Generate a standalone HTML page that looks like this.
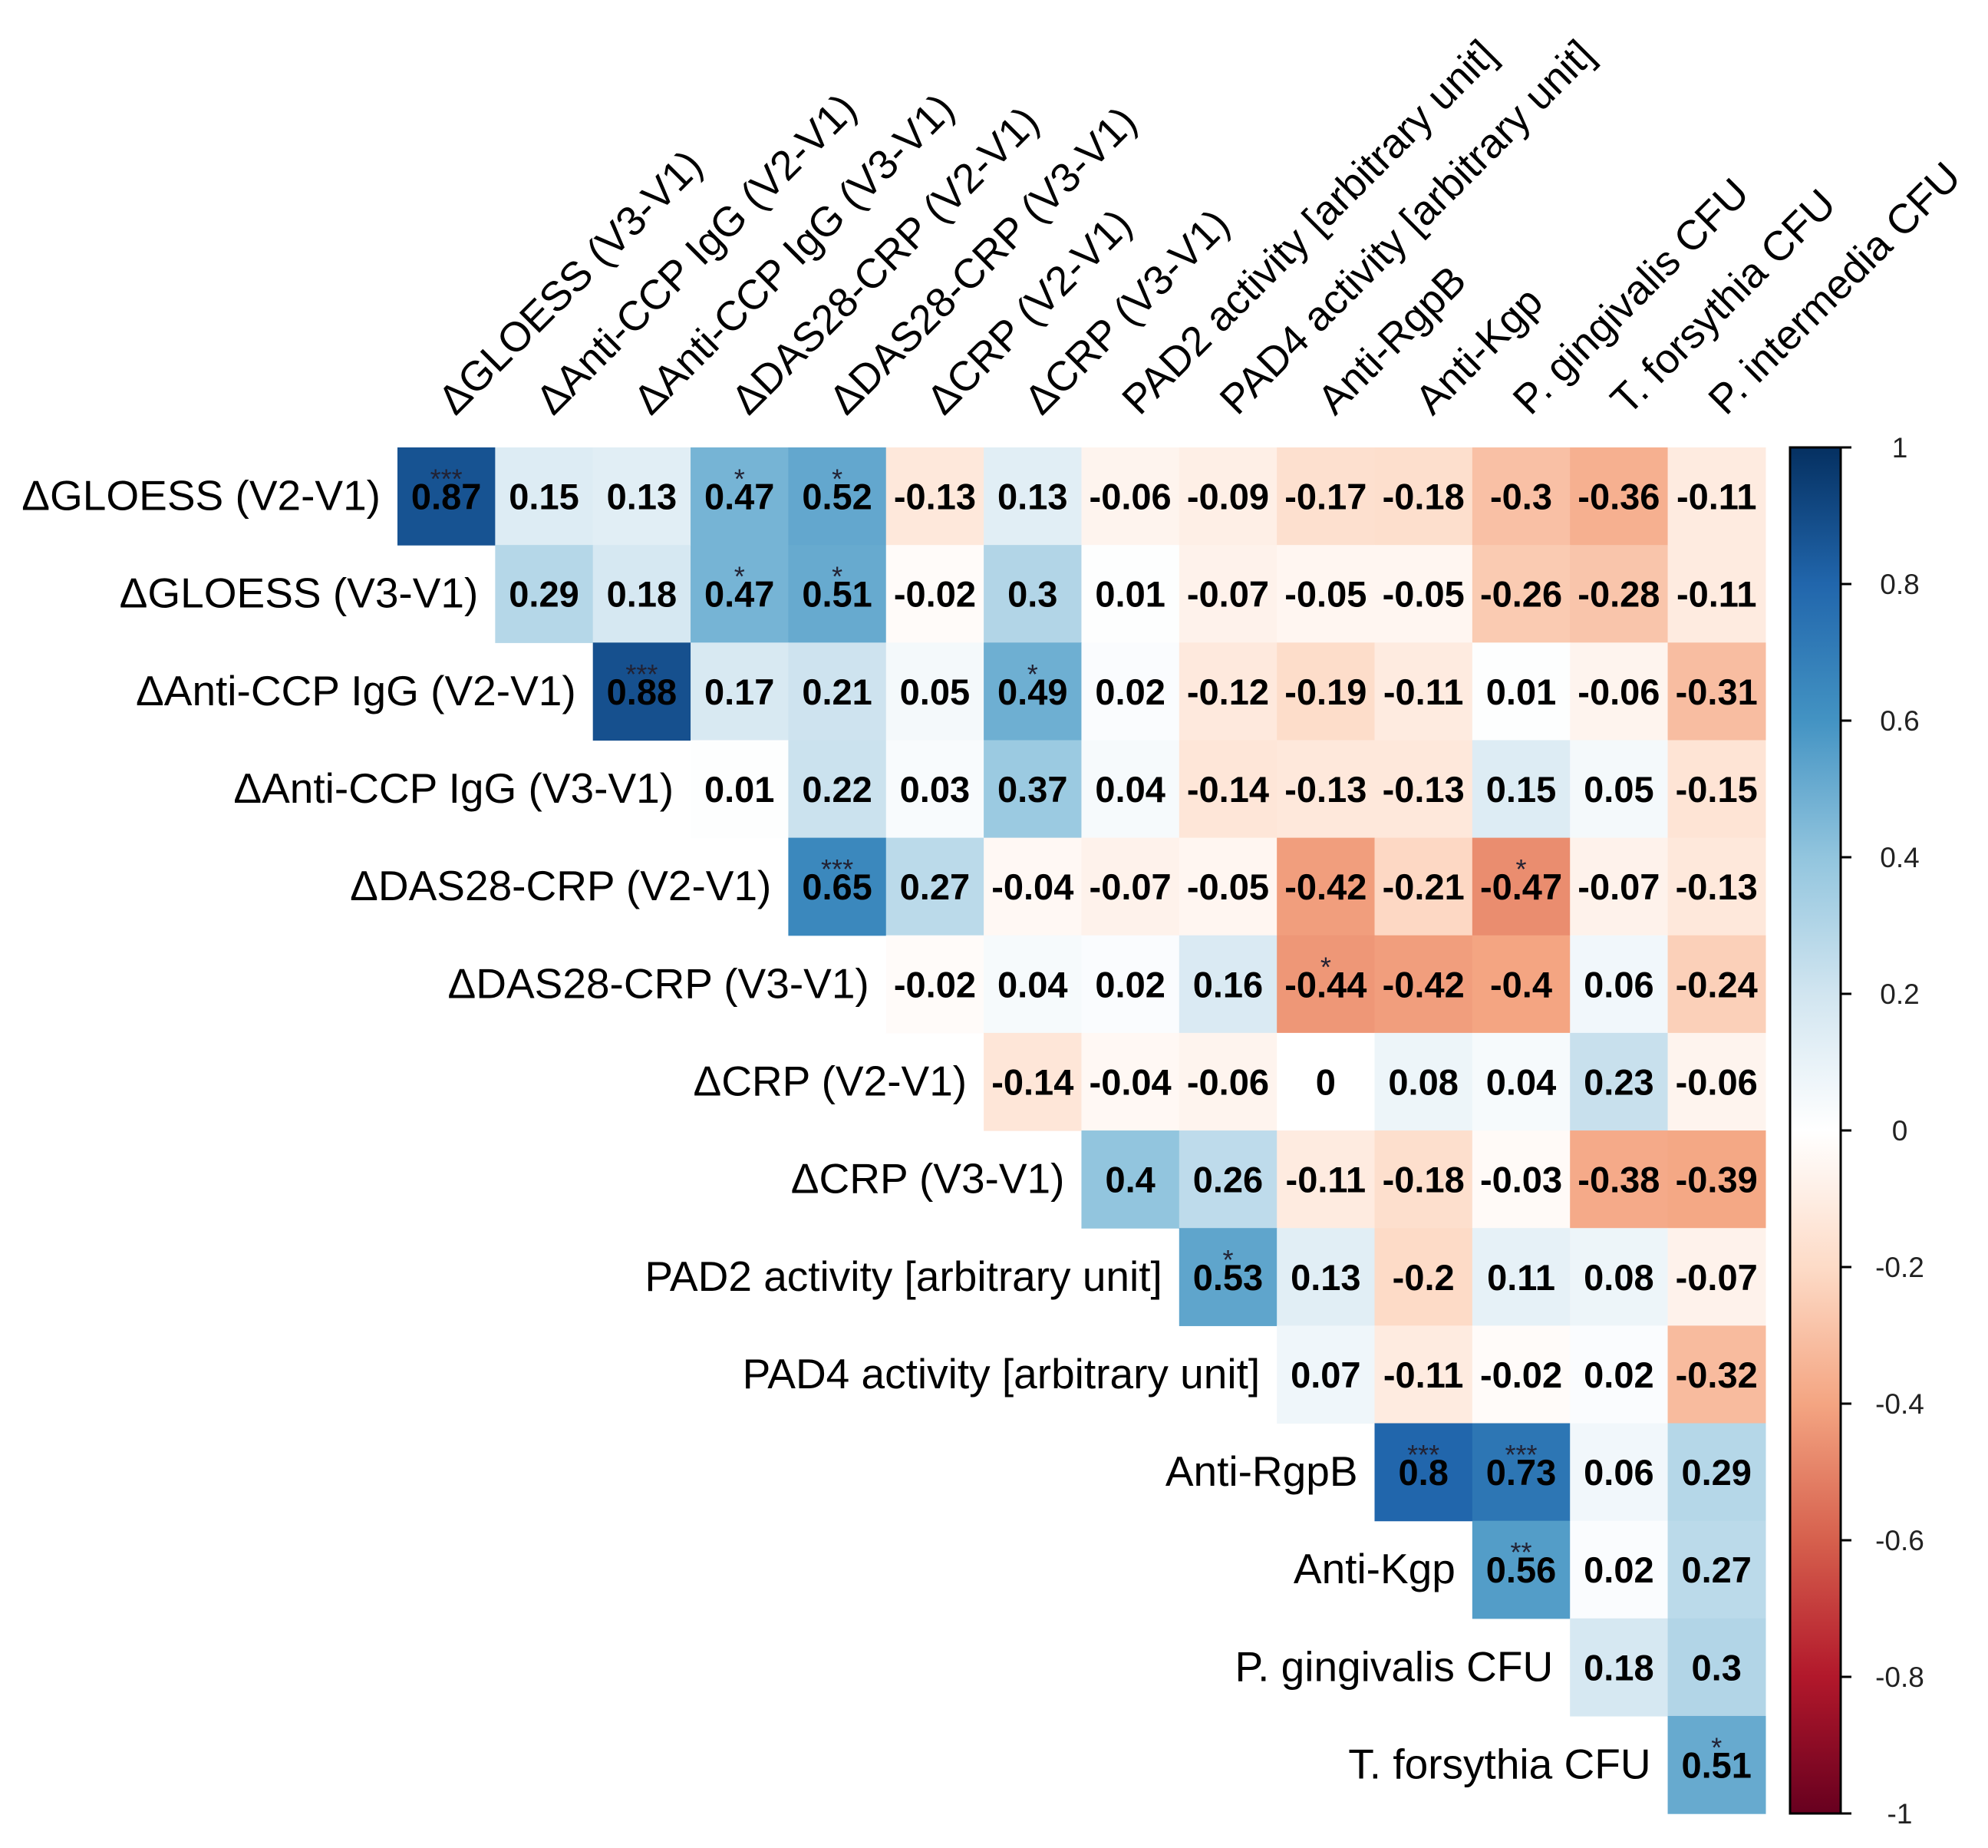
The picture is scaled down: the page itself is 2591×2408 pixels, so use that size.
<!DOCTYPE html>
<html><head><meta charset="utf-8"><style>
html,body{margin:0;padding:0;background:#fff}
svg{display:block}
text{font-family:"Liberation Sans",Arial,sans-serif}
</style></head><body>
<svg id="chart" width="2591" height="2408" viewBox="0 0 2591 2408" xmlns="http://www.w3.org/2000/svg">
<defs>
<linearGradient id="cbgrad" x1="0" y1="0" x2="0" y2="1">
<stop offset="0" stop-color="#053061"/><stop offset="0.1" stop-color="#2166AC"/><stop offset="0.2" stop-color="#4393C3"/><stop offset="0.3" stop-color="#92C5DE"/><stop offset="0.4" stop-color="#D1E5F0"/><stop offset="0.5" stop-color="#FFFFFF"/><stop offset="0.6" stop-color="#FDDBC7"/><stop offset="0.7" stop-color="#F4A582"/><stop offset="0.8" stop-color="#D6604D"/><stop offset="0.9" stop-color="#B2182B"/><stop offset="1" stop-color="#67001F"/>
</linearGradient>
</defs>
<g id="cells"></g>
<g id="rowlabels"></g>
<g id="collabels"></g>
<g id="colorbar">
<rect x="2333" y="583" width="66" height="1780" fill="url(#cbgrad)" stroke="#000" stroke-width="3"/>
</g>
</svg>
<script>
const rowLabels = ["ΔGLOESS (V2-V1)","ΔGLOESS (V3-V1)","ΔAnti-CCP IgG (V2-V1)","ΔAnti-CCP IgG (V3-V1)","ΔDAS28-CRP (V2-V1)","ΔDAS28-CRP (V3-V1)","ΔCRP (V2-V1)","ΔCRP (V3-V1)","PAD2 activity [arbitrary unit]","PAD4 activity [arbitrary unit]","Anti-RgpB","Anti-Kgp","P. gingivalis CFU","T. forsythia CFU"];
const colLabels = ["ΔGLOESS (V3-V1)","ΔAnti-CCP IgG (V2-V1)","ΔAnti-CCP IgG (V3-V1)","ΔDAS28-CRP (V2-V1)","ΔDAS28-CRP (V3-V1)","ΔCRP (V2-V1)","ΔCRP (V3-V1)","PAD2 activity [arbitrary unit]","PAD4 activity [arbitrary unit]","Anti-RgpB","Anti-Kgp","P. gingivalis CFU","T. forsythia CFU","P. intermedia CFU"];
const row0 = [0.87,0.15,0.13,0.47,0.52,-0.13,0.13,-0.06,-0.09,-0.17,-0.18,-0.3,-0.36,-0.11];
const row1 = [0.29,0.18,0.47,0.51,-0.02,0.3,0.01,-0.07,-0.05,-0.05,-0.26,-0.28,-0.11];
const row2 = [0.88,0.17,0.21,0.05,0.49,0.02,-0.12,-0.19,-0.11,0.01,-0.06,-0.31];
const row3 = [0.01,0.22,0.03,0.37,0.04,-0.14,-0.13,-0.13,0.15,0.05,-0.15];
const row4 = [0.65,0.27,-0.04,-0.07,-0.05,-0.42,-0.21,-0.47,-0.07,-0.13];
const row5 = [-0.02,0.04,0.02,0.16,-0.44,-0.42,-0.4,0.06,-0.24];
const row6 = [-0.14,-0.04,-0.06,0,0.08,0.04,0.23,-0.06];
const row7 = [0.4,0.26,-0.11,-0.18,-0.03,-0.38,-0.39];
const row8 = [0.53,0.13,-0.2,0.11,0.08,-0.07];
const row9 = [0.07,-0.11,-0.02,0.02,-0.32];
const row10 = [0.8,0.73,0.06,0.29];
const row11 = [0.56,0.02,0.27];
const row12 = [0.18,0.3];
const row13 = [0.51];
const sig0 = ["***","","","*","*","","","","","","","","",""];
const sig1 = ["","","*","*","","","","","","","","",""];
const sig2 = ["***","","","","*","","","","","","",""];
const sig4 = ["***","","","","","","","*","",""];
const sig5 = ["","","","","*","","","",""];
const sig8 = ["*","","","","",""];
const sig10 = ["***","***","",""];
const sig11 = ["**","",""];
const sig13 = ["*"];
const cbTicks = [1,0.8,0.6,0.4,0.2,0,-0.2,-0.4,-0.6,-0.8,-1];

const rows=[row0,row1,row2,row3,row4,row5,row6,row7,row8,row9,row10,row11,row12,row13];
const sigs=[sig0,sig1,sig2,[],sig4,sig5,[],[],sig8,[],sig10,sig11,[],sig13];
const NS="http://www.w3.org/2000/svg";
const X0=518,Y0=583,CW=127.35,CH=127.15;
const xPos=j=>X0+j*CW, yPos=i=>Y0+i*CH;
const pal=["#67001F","#B2182B","#D6604D","#F4A582","#FDDBC7","#FFFFFF","#D1E5F0","#92C5DE","#4393C3","#2166AC","#053061"];
function hex(h){return [1,3,5].map(k=>parseInt(h.substr(k,2),16));}
function color(v){const t=(v+1)/2*10;const i=Math.min(9,Math.floor(t));const f=t-i;const a=hex(pal[i]),b=hex(pal[i+1]);return "rgb("+a.map((c,k)=>Math.round(c+(b[k]-c)*f)).join(",")+")";}
function mk(tag,attrs,parent){const e=document.createElementNS(NS,tag);for(const k in attrs)e.setAttribute(k,attrs[k]);parent.appendChild(e);return e;}
const gc=document.getElementById('cells'),gr=document.getElementById('rowlabels'),gl=document.getElementById('collabels'),gb=document.getElementById('colorbar');
rows.forEach((r,i)=>{
  r.forEach((v,k)=>{
    const j=i+k;
    const rect=mk('rect',{x:xPos(j),y:yPos(i),width:CW+0.6,height:CH+0.6,fill:color(v)},gc);
    
    
    const t=mk('text',{x:xPos(j)+CW/2,y:yPos(i)+CH/2+17,'text-anchor':'middle','font-size':'47','font-weight':'bold',fill:'#000'},gc);
    t.textContent=String(v);
    
    
    const s=(sigs[i]||[])[k];
    if(s){const st=mk('text',{x:xPos(j)+CW/2,y:yPos(i)+CH/2-10,'text-anchor':'middle','font-size':'36',fill:'#223'},gc);st.textContent=s;
      
      }
  });
  const rl=mk('text',{x:xPos(i)-22,y:yPos(i)+CH/2+18,'text-anchor':'end','font-size':'55',fill:'#000'},gr);
  rl.textContent=rowLabels[i];
  
  
});
colLabels.forEach((c,j)=>{
  const cx=xPos(j)+CW/2+12, cy=Y0-40;
  const t=mk('text',{x:cx,y:cy,'font-size':'54',fill:'#000',transform:'rotate(-45 '+cx+' '+cy+')'},gl);
  t.textContent=c;
  
  
});
const cbY=v=>583+(1-v)/2*1780;
cbTicks.forEach(v=>{
  const y=cbY(v);
  const l=mk('line',{x1:2399,x2:2413,y1:y,y2:y,stroke:'#000','stroke-width':3},gb);
  
  
  const t=mk('text',{x:2476,y:y+13,'text-anchor':'middle','font-size':'37',fill:'#222'},gb);
  t.textContent=String(v);
  
  
});
</script>
</body></html>
